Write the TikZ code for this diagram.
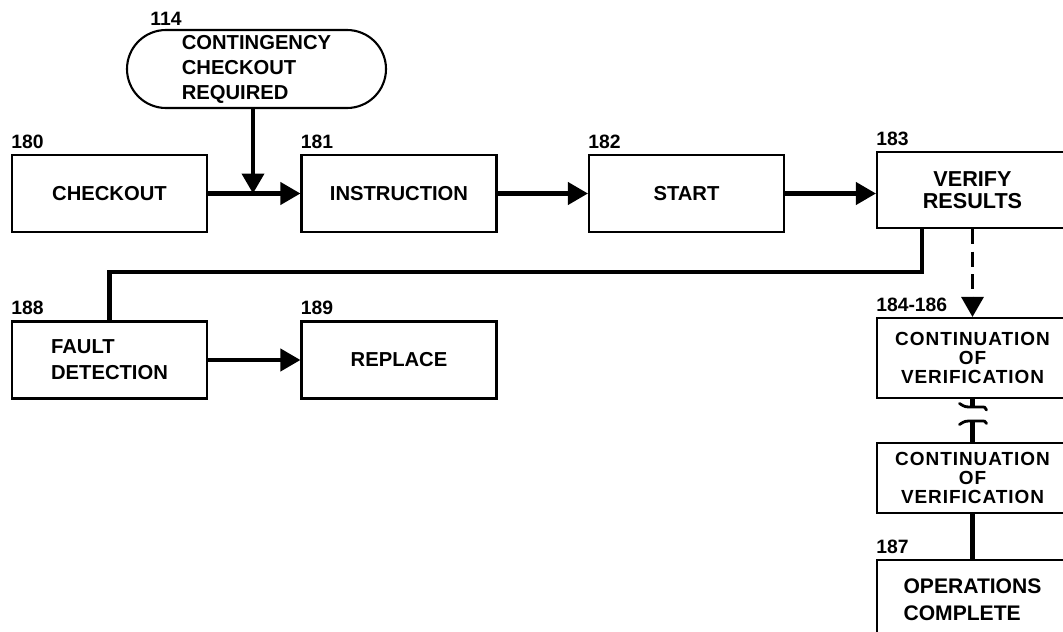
\documentclass[tikz,border=0pt]{standalone}
\usepackage{fontspec}
\setmainfont{Liberation Sans}
\newfontfamily\widefont[LetterSpace=5]{Liberation Sans}
\usetikzlibrary{arrows.meta}

\begin{document}
\begin{tikzpicture}[
  box/.style={draw,line width=1.2pt,minimum width=3.9cm,minimum height=1.54cm,inner sep=2pt,align=center,font=\bfseries\fontsize{11.5}{14}\selectfont},
  rbox/.style={box,minimum width=3.82cm,font=\bfseries\fontsize{12.3}{12.5}\selectfont},
  cbox/.style={rbox,font=\widefont\bfseries\fontsize{10.8}{11}\selectfont},
  num/.style={anchor=south west,inner sep=0pt,font=\bfseries\fontsize{11}{12}\selectfont},
  flow/.style={line width=2.3pt},
  arr/.style={flow,-{Triangle[length=0.4cm,width=0.44cm]}},
  brk/.style={line width=1.6pt,line cap=round}
]
  \clip (0,0) rectangle (21.26,-12.64);
  \node[box,rounded corners=0.78cm,minimum width=5.18cm,minimum height=1.56cm,align=left,font=\bfseries\fontsize{11.5}{14.2}\selectfont] (cont) at (5.13,-1.38) {CONTINGENCY\\CHECKOUT\\REQUIRED};
  \node[box] (chk) at (2.19,-3.87) {CHECKOUT};
  \node[box] (ins) at (7.98,-3.87) {INSTRUCTION};
  \node[box] (strt) at (13.73,-3.87) {START};
  \node[rbox,minimum height=1.52cm] (ver) at (19.45,-3.80) {VERIFY\\RESULTS};
  \node[box,align=left,font=\bfseries\fontsize{11.5}{14.7}\selectfont] (flt) at (2.19,-7.20) {FAULT\\DETECTION};
  \node[box] (rpl) at (7.98,-7.20) {REPLACE};
  \node[cbox,minimum height=1.6cm] (cv1) at (19.45,-7.16) {CONTINUATION\\OF\\VERIFICATION};
  \node[cbox,minimum height=1.4cm] (cv2) at (19.45,-9.56) {CONTINUATION\\OF\\VERIFICATION};
  \node[rbox,minimum height=1.6cm,align=left,font=\bfseries\fontsize{12}{15.3}\selectfont] (opc) at (19.45,-12.0) {OPERATIONS\\COMPLETE};
  \node[num] (n114) at (3.0,-0.52) {114};
  \node[num] at ([yshift=3pt]chk.north west) (n180) {180};
  \node[num] at ([yshift=3pt]ins.north west) (n181) {181};
  \node[num] at ([yshift=3pt]strt.north west) (n182) {182};
  \node[num] at ([yshift=3pt]ver.north west) (n183) {183};
  \node[num] at ([yshift=3pt]flt.north west) (n188) {188};
  \node[num] at ([yshift=3pt]rpl.north west) (n189) {189};
  \node[num] at ([yshift=3pt]cv1.north west) (n184) {184-186};
  \node[num] at ([yshift=3pt]opc.north west) (n187) {187};
  \coordinate (jn) at (5.06,-3.87);
  \coordinate (vj) at (18.44,-5.44);
  \coordinate (b1) at (19.45,-8.14);
  \coordinate (b2) at (19.45,-8.42);
  \draw[arr] (chk) -- (ins);
  \draw[arr] (jn |- cont.south) -- (jn);
  \draw[arr] (ins) -- (strt);
  \draw[arr] (strt) -- (ver.west |- strt);
  \draw[flow] (ver.south -| vj) -- (vj) -| (flt.north);
  \draw[arr,line width=1.8pt,dash pattern=on 0.3cm off 0.15cm] (ver.south) -- (cv1.north);
  \draw[arr] (flt) -- (rpl);
  \draw[flow] (cv1.south) -- (b1);
  \draw[brk] ([shift={(-0.26,0.07)}]b1) .. controls ([shift={(-0.15,0)}]b1) .. (b1) -- ([shift={(0.18,0)}]b1) .. controls ([shift={(0.25,0)}]b1) .. ([shift={(0.28,-0.06)}]b1);
  \draw[brk] ([shift={(-0.26,-0.07)}]b2) .. controls ([shift={(-0.15,0)}]b2) .. (b2) -- ([shift={(0.18,0)}]b2) .. controls ([shift={(0.25,0)}]b2) .. ([shift={(0.28,-0.05)}]b2);
  \draw[flow] (b2) -- (cv2.north);
  \draw[flow] (cv2) -- (opc);
\end{tikzpicture}
\end{document}
